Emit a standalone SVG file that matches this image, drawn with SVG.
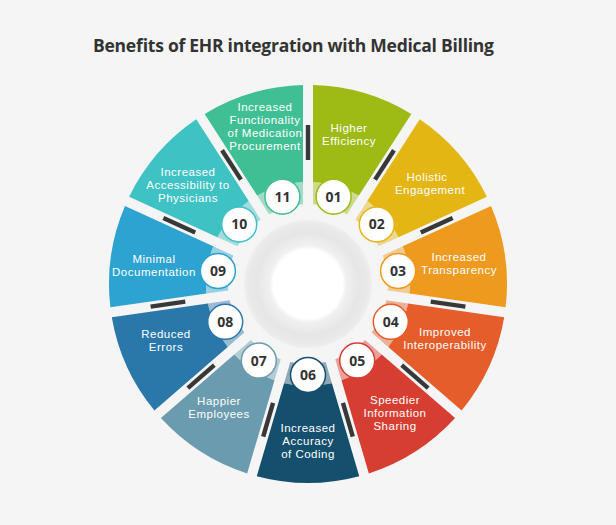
<svg xmlns="http://www.w3.org/2000/svg" width="616" height="525" viewBox="0 0 616 525">
<style>
.lbl{font-family:"Liberation Sans",Arial,sans-serif;font-size:11.5px;letter-spacing:0.5px;fill:#ffffff;text-anchor:middle}
.num{font-family:"Open Sans","Liberation Sans",sans-serif;font-size:14px;font-weight:700;fill:#333333;text-anchor:middle}
.nc{fill:#ffffff;stroke-width:1.5}
.bar{fill:#383838}
</style>
<defs>
<path id="wedge" d="M-51.249,-192.287 A199,199 0 0 1 51.249,-192.287 L23.905,-99.159 A102,102 0 0 0 -23.905,-99.159 Z"/>
<path id="band" d="M-23.905,-99.159 A102,102 0 0 1 23.905,-99.159 L17.697,-78.018 A80,80 0 0 0 -17.697,-78.018 Z"/>
<rect id="bar" x="-2.2" y="-159" width="4.4" height="35"/>
<radialGradient id="hub" cx="0.5" cy="0.5" r="0.5">
<stop offset="0" stop-color="#ffffff"/>
<stop offset="0.54" stop-color="#ffffff"/>
<stop offset="0.6" stop-color="#f1f1f1"/>
<stop offset="0.8" stop-color="#e6e6e6"/>
<stop offset="0.93" stop-color="#e9e9e9"/>
<stop offset="1" stop-color="#efefef"/>
</radialGradient>
</defs>
<rect width="616" height="525" fill="#f5f5f5"/>
<text x="93" y="52" font-family="'Open Sans','Liberation Sans',sans-serif" font-size="17.5" font-weight="700" fill="#333333" textLength="401" lengthAdjust="spacing">Benefits of EHR integration with Medical Billing</text>
<g id="hub-center">
<circle cx="308" cy="284" r="64" fill="url(#hub)"/>
</g>
<g id="node-01">
<use href="#wedge" transform="translate(308 284) rotate(16.364)" fill="#9dba15"/>
<use href="#band" transform="translate(308 284) rotate(16.364)" fill="#9dba15" opacity="0.45"/>
<text class="lbl"><tspan x="349" y="132">Higher</tspan><tspan x="349" y="145">Efficiency</tspan></text>
<circle class="nc" cx="333.6" cy="196.7" r="17.5" stroke="#9dba15"/>
<text class="num" x="333.6" y="201.7">01</text>
</g>
<g id="node-02">
<use href="#wedge" transform="translate(308 284) rotate(49.091)" fill="#e4b613"/>
<use href="#band" transform="translate(308 284) rotate(49.091)" fill="#e4b613" opacity="0.45"/>
<text class="lbl"><tspan x="427" y="181">Holistic</tspan><tspan x="430" y="194">Engagement</tspan></text>
<circle class="nc" cx="376.8" cy="224.4" r="17.5" stroke="#e4b613"/>
<text class="num" x="376.8" y="229.4">02</text>
</g>
<g id="node-03">
<use href="#wedge" transform="translate(308 284) rotate(81.818)" fill="#ee9a1f"/>
<use href="#band" transform="translate(308 284) rotate(81.818)" fill="#ee9a1f" opacity="0.45"/>
<text class="lbl"><tspan x="459" y="261">Increased</tspan><tspan x="459" y="274">Transparency</tspan></text>
<circle class="nc" cx="398.1" cy="271" r="17.5" stroke="#ee9a1f"/>
<text class="num" x="398.1" y="276">03</text>
</g>
<g id="node-04">
<use href="#wedge" transform="translate(308 284) rotate(114.545)" fill="#e55d2b"/>
<use href="#band" transform="translate(308 284) rotate(114.545)" fill="#e55d2b" opacity="0.45"/>
<text class="lbl"><tspan x="445" y="336">Improved</tspan><tspan x="445" y="349">Interoperability</tspan></text>
<circle class="nc" cx="390.8" cy="321.8" r="17.5" stroke="#e55d2b"/>
<text class="num" x="390.8" y="326.8">04</text>
</g>
<g id="node-05">
<use href="#wedge" transform="translate(308 284) rotate(147.273)" fill="#d63e31"/>
<use href="#band" transform="translate(308 284) rotate(147.273)" fill="#d63e31" opacity="0.45"/>
<text class="lbl"><tspan x="395" y="404">Speedier</tspan><tspan x="395" y="417">Information</tspan><tspan x="395" y="430">Sharing</tspan></text>
<circle class="nc" cx="357.2" cy="360.6" r="17.5" stroke="#d63e31"/>
<text class="num" x="357.2" y="365.6">05</text>
</g>
<g id="node-06">
<use href="#wedge" transform="translate(308 284) rotate(180)" fill="#14506d"/>
<use href="#band" transform="translate(308 284) rotate(180)" fill="#14506d" opacity="0.45"/>
<text class="lbl"><tspan x="308" y="432">Increased</tspan><tspan x="308" y="445">Accuracy</tspan><tspan x="308" y="458">of Coding</tspan></text>
<circle class="nc" cx="308" cy="375" r="17.5" stroke="#14506d"/>
<text class="num" x="308" y="380">06</text>
</g>
<g id="node-07">
<use href="#wedge" transform="translate(308 284) rotate(212.727)" fill="#6b9bae"/>
<use href="#band" transform="translate(308 284) rotate(212.727)" fill="#6b9bae" opacity="0.45"/>
<text class="lbl"><tspan x="219" y="405">Happier</tspan><tspan x="219" y="418">Employees</tspan></text>
<circle class="nc" cx="258.8" cy="360.6" r="17.5" stroke="#6b9bae"/>
<text class="num" x="258.8" y="365.6">07</text>
</g>
<g id="node-08">
<use href="#wedge" transform="translate(308 284) rotate(245.455)" fill="#2a78aa"/>
<use href="#band" transform="translate(308 284) rotate(245.455)" fill="#2a78aa" opacity="0.45"/>
<text class="lbl"><tspan x="166" y="338">Reduced</tspan><tspan x="166" y="351">Errors</tspan></text>
<circle class="nc" cx="225.2" cy="321.8" r="17.5" stroke="#2a78aa"/>
<text class="num" x="225.2" y="326.8">08</text>
</g>
<g id="node-09">
<use href="#wedge" transform="translate(308 284) rotate(278.182)" fill="#2ca3d1"/>
<use href="#band" transform="translate(308 284) rotate(278.182)" fill="#2ca3d1" opacity="0.45"/>
<text class="lbl"><tspan x="154" y="263">Minimal</tspan><tspan x="154" y="276">Documentation</tspan></text>
<circle class="nc" cx="217.9" cy="271" r="17.5" stroke="#2ca3d1"/>
<text class="num" x="217.9" y="276">09</text>
</g>
<g id="node-10">
<use href="#wedge" transform="translate(308 284) rotate(310.909)" fill="#3ec2c4"/>
<use href="#band" transform="translate(308 284) rotate(310.909)" fill="#3ec2c4" opacity="0.45"/>
<text class="lbl"><tspan x="188" y="176">Increased</tspan><tspan x="188" y="189">Accessibility to</tspan><tspan x="188" y="202">Physicians</tspan></text>
<circle class="nc" cx="239.2" cy="224.4" r="17.5" stroke="#3ec2c4"/>
<text class="num" x="239.2" y="229.4">10</text>
</g>
<g id="node-11">
<use href="#wedge" transform="translate(308 284) rotate(343.636)" fill="#3fbf93"/>
<use href="#band" transform="translate(308 284) rotate(343.636)" fill="#3fbf93" opacity="0.45"/>
<text class="lbl"><tspan x="265" y="111">Increased</tspan><tspan x="265" y="124">Functionality</tspan><tspan x="265" y="137">of Medication</tspan><tspan x="265" y="150">Procurement</tspan></text>
<circle class="nc" cx="282.4" cy="196.7" r="17.5" stroke="#3fbf93"/>
<text class="num" x="282.4" y="201.7">11</text>
</g>
<g id="separators" class="bar">
<use href="#bar" transform="translate(308 284) rotate(0)"/>
<use href="#bar" transform="translate(308 284) rotate(32.727)"/>
<use href="#bar" transform="translate(308 284) rotate(65.455)"/>
<use href="#bar" transform="translate(308 284) rotate(98.182)"/>
<use href="#bar" transform="translate(308 284) rotate(130.909)"/>
<use href="#bar" transform="translate(308 284) rotate(163.636)"/>
<use href="#bar" transform="translate(308 284) rotate(196.364)"/>
<use href="#bar" transform="translate(308 284) rotate(229.091)"/>
<use href="#bar" transform="translate(308 284) rotate(261.818)"/>
<use href="#bar" transform="translate(308 284) rotate(294.545)"/>
<use href="#bar" transform="translate(308 284) rotate(327.273)"/>
</g>
</svg>
